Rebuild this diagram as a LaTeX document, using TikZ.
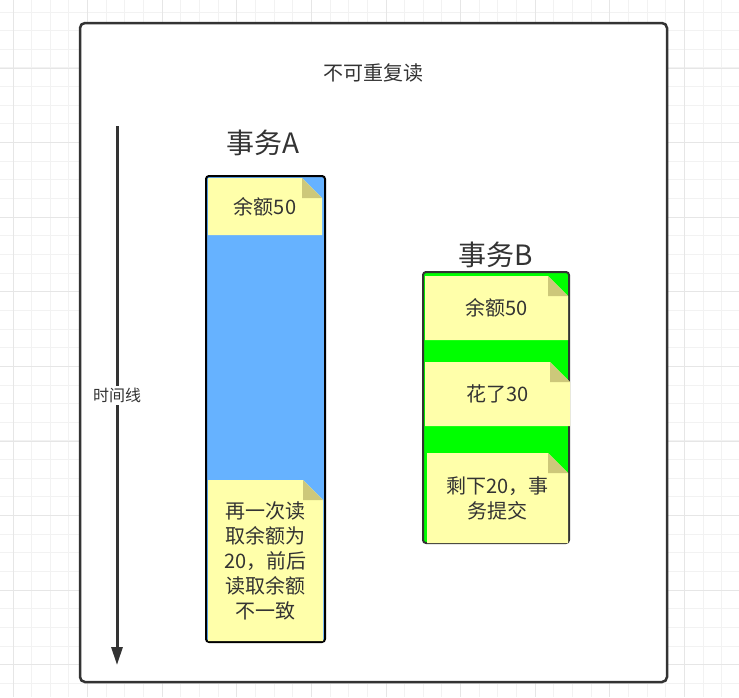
\documentclass[tikz,border=0pt]{standalone}
\usepackage{fontspec}
\setmainfont{Noto Sans CJK SC}
\usetikzlibrary{arrows.meta}
\definecolor{inkgray}{HTML}{333333}
\definecolor{gridminor}{HTML}{F2F2F2}
\definecolor{gridmajor}{HTML}{E6E6E6}
\definecolor{notefill}{HTML}{FFFFAA}
\definecolor{notefold}{RGB}{205,200,122}
\definecolor{txnblue}{HTML}{66B2FF}
\definecolor{txngreen}{HTML}{00FF00}
\newcommand{\notefont}{\fontsize{20}{25}\selectfont}
\tikzstyle{frame} = [rectangle, draw=inkgray, line width=2.5pt, rounded corners=5pt, fill=white, inner sep=0pt]
\tikzstyle{txn} = [rectangle, rounded corners=3pt, line width=2pt, inner sep=0pt]
\tikzstyle{note} = [rectangle, inner sep=0pt, align=center, text=inkgray, font=\notefont,
  path picture={
    \fill[notefill] (path picture bounding box.south west) -- (path picture bounding box.north west)
      -- ([xshift=-20pt]path picture bounding box.north east) -- ([yshift=-20pt]path picture bounding box.north east)
      -- (path picture bounding box.south east) -- cycle;
    \fill[notefold] ([xshift=-20pt]path picture bounding box.north east) -- ([xshift=-20pt,yshift=-20pt]path picture bounding box.north east)
      -- ([yshift=-20pt]path picture bounding box.north east) -- cycle;
  }]
\tikzstyle{title} = [text=inkgray, inner sep=0pt]
\tikzstyle{arrow} = [line width=3pt, draw=inkgray, -{Triangle[width=11pt,length=18pt]}]
\begin{document}
\begin{tikzpicture}[x=1pt, y=-1pt]
        \useasboundingbox (0,0) rectangle (739,697);
        % background grid
        \foreach \i in {0,...,39} {
          \draw[gridminor, line width=1pt] (13+18.65*\i-18.65,0) -- (13+18.65*\i-18.65,697);
        }
        \foreach \i in {0,...,38} {
          \draw[gridminor, line width=1pt] (0,12+18.65*\i) -- (739,12+18.65*\i);
        }
        \foreach \i in {0,...,9} {
          \draw[gridmajor, line width=1pt] (13+74.6*\i,0) -- (13+74.6*\i,697);
          \draw[gridmajor, line width=1pt] (0,68+74.6*\i-74.6) -- (739,68+74.6*\i-74.6);
        }
        \node (board) [frame, minimum width=587pt, minimum height=659pt] at (373.5,352.5) {};
        \node (heading) [title, font=\fontsize{20}{24}\selectfont] at (373,73) {不可重复读};

        % time axis
        \coordinate (timetop) at (117,126);
        \coordinate (timeend) at (117,665);
        \draw [arrow] (timetop) -- node[fill=white, text=inkgray, inner sep=2pt, font=\fontsize{16}{18}\selectfont] {时间线} (timeend);

        % transaction A
        \node (nameA) [title, font=\fontsize{28}{32}\selectfont] at (263,143) {事务A};
        \node (txnA) [txn, draw=black, fill=txnblue, minimum width=119pt, minimum height=466pt] at (265.5,409) {};
        \node (readA1) [note, minimum width=114pt, minimum height=57pt] at (265,206.5) {余额50};
        \node (readA2) [note, minimum width=115pt, minimum height=161pt] at (265.5,560.5) {再一次读\\取余额为\\20，前后\\读取余额\\不一致};

        % transaction B
        \node (nameB) [title, font=\fontsize{28}{32}\selectfont] at (496,255) {事务B};
        \node (txnB) [txn, draw=inkgray, fill=txngreen, minimum width=146pt, minimum height=271pt] at (496,407.5) {};
        \node (readB) [note, minimum width=143pt, minimum height=64pt] at (496.5,308) {余额50};
        \node (spendB) [note, minimum width=145pt, minimum height=64pt] at (497.5,394) {花了30};
        \node (commitB) [note, minimum width=141pt, minimum height=90pt] at (497.5,498) {剩下20，事\\务提交};
\end{tikzpicture}
\end{document}
